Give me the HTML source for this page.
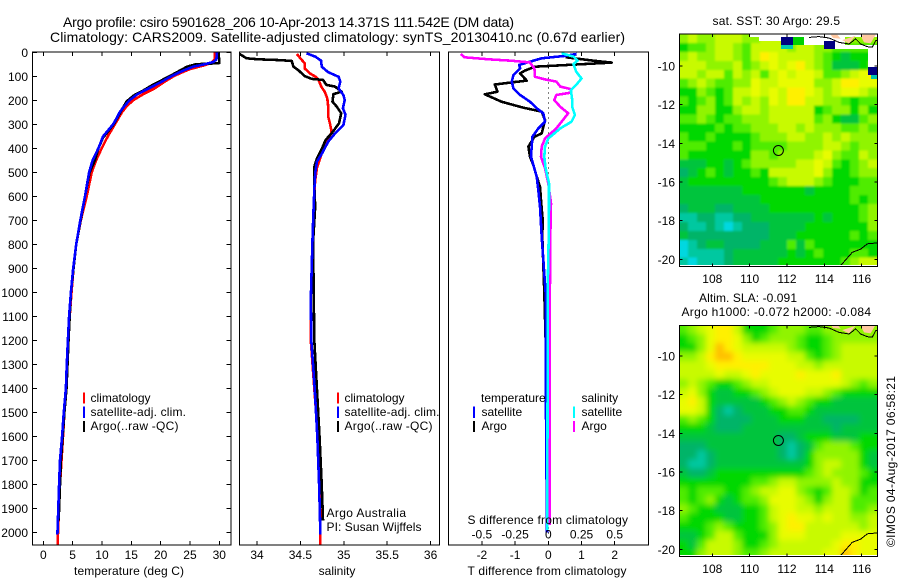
<!DOCTYPE html>
<html lang="en">
<head>
<meta charset="utf-8">
<title>Argo profile csiro 5901628_206</title>
<style>
html,body{margin:0;padding:0;background:#fff;}
svg{display:block;font-family:"Liberation Sans",sans-serif;font-size:12px;fill:#000;}
.frame{fill:none;stroke:#000;stroke-width:1;shape-rendering:crispEdges;}
.tick{stroke:#000;stroke-width:1;shape-rendering:crispEdges;}
.prof{fill:none;stroke-width:2.6;stroke-linejoin:round;shape-rendering:crispEdges;}
.zero{fill:none;stroke-width:1;stroke-dasharray:1 4;shape-rendering:crispEdges;}
.leg{stroke-width:2;shape-rendering:crispEdges;}
</style>
</head>
<body>
<svg id="chart" width="900" height="580" viewBox="0 0 900 580" xmlns="http://www.w3.org/2000/svg">
  <rect width="900" height="580" fill="#fff"/>
  <defs>
    <clipPath id="clip-sst"><rect x="679" y="34" width="198.5" height="232.7"/></clipPath>
    <clipPath id="clip-sla"><rect x="679" y="325" width="198.5" height="231.7"/></clipPath>
    <filter id="soft-sst" filterUnits="userSpaceOnUse" x="640" y="0" width="260" height="300"><feGaussianBlur stdDeviation="1.1"/></filter>
    <filter id="soft-sla" filterUnits="userSpaceOnUse" x="640" y="290" width="260" height="290"><feGaussianBlur stdDeviation="3"/></filter>
  </defs>

  <text x="63" y="27" font-size="14" textLength="451">Argo profile: csiro 5901628_206 10-Apr-2013 14.371S 111.542E (DM data)</text>
  <text x="50" y="42" font-size="14" textLength="575">Climatology: CARS2009. Satellite-adjusted climatology: synTS_20130410.nc (0.67d earlier)</text>

  <g id="temp-panel"></g>
  <g id="sal-panel"></g>
  <g id="diff-panel"></g>

  <g>
    <line class="leg" x1="84" x2="84" y1="392.5" y2="403.5" stroke="#f00"/>
    <line class="leg" x1="84" x2="84" y1="406.5" y2="418" stroke="#00f"/>
    <line class="leg" x1="84" x2="84" y1="421" y2="432" stroke="#000"/>
    <text x="90.5" y="402">climatology</text>
    <text x="90.5" y="416" textLength="95.5">satellite-adj. clim.</text>
    <text x="90.5" y="430" textLength="88">Argo(..raw -QC)</text>
  </g>
  <g>
    <line class="leg" x1="338" x2="338" y1="392.5" y2="403.5" stroke="#f00"/>
    <line class="leg" x1="338" x2="338" y1="406.5" y2="418" stroke="#00f"/>
    <line class="leg" x1="338" x2="338" y1="421" y2="432" stroke="#000"/>
    <text x="344.5" y="402">climatology</text>
    <text x="344.5" y="416" textLength="95">satellite-adj. clim.</text>
    <text x="344.5" y="430" textLength="88">Argo(..raw -QC)</text>
    <text x="326.5" y="517" textLength="79.5">Argo Australia</text>
    <text x="326.5" y="531" textLength="95">PI: Susan Wijffels</text>
  </g>
  <g>
    <text x="481" y="402">temperature</text>
    <text x="581.5" y="402">salinity</text>
    <line class="leg" x1="474" x2="474" y1="406.5" y2="418" stroke="#00f"/>
    <line class="leg" x1="474" x2="474" y1="421" y2="432" stroke="#000"/>
    <line class="leg" x1="574" x2="574" y1="406.5" y2="418" stroke="#0ff"/>
    <line class="leg" x1="574" x2="574" y1="421" y2="432" stroke="#f0f"/>
    <text x="481.5" y="416">satellite</text>
    <text x="481.5" y="430">Argo</text>
    <text x="581.5" y="416">satellite</text>
    <text x="581.5" y="430">Argo</text>
    <text x="467.5" y="524" textLength="160.5">S difference from climatology</text>
  </g>

  <text x="712.5" y="25" textLength="127.5">sat. SST: 30 Argo: 29.5</text>
  <g clip-path="url(#clip-sst)">
    <g id="sst-map" filter="url(#soft-sst)"></g>
  </g>
  <g shape-rendering="crispEdges">
    <rect x="749" y="34" width="129" height="3" fill="#fff"/>
    <rect x="759" y="37" width="22" height="4" fill="#fff"/>
    <rect x="781" y="37" width="12" height="8" fill="#000080"/>
    <rect x="781" y="45" width="12" height="4" fill="#00c8b0"/>
    <rect x="793" y="37" width="11" height="8" fill="#00d000"/>
    <rect x="804" y="37" width="41" height="8" fill="#fff"/>
    <rect x="824" y="41" width="11" height="8" fill="#000080"/>
    <rect x="835" y="45" width="43" height="4" fill="#fff"/>
    <rect x="868" y="49" width="10" height="18" fill="#fff"/>
    <rect x="868" y="67" width="10" height="8" fill="#000080"/>
    <rect x="871" y="75" width="7" height="4" fill="#00c8b0"/>
    <rect x="679" y="265" width="199" height="2" fill="#fff"/>
  </g>
  <g id="sst-coast" clip-path="url(#clip-sst)"></g>
  <g id="sst-frame"></g>

  <text x="699" y="302" textLength="98">Altim. SLA: -0.091</text>
  <text x="681.5" y="316" textLength="189.5">Argo h1000: -0.072 h2000: -0.084</text>
  <g clip-path="url(#clip-sla)">
    <g id="sla-map" filter="url(#soft-sla)"></g>
  </g>
  <rect x="679" y="555" width="199" height="2" fill="#fff" shape-rendering="crispEdges"/>
  <g id="sla-coast" clip-path="url(#clip-sla)"></g>
  <g id="sla-frame"></g>

  <text transform="translate(895,547) rotate(-90)" font-size="12" textLength="171">©IMOS 04-Aug-2017 06:58:21</text>
</svg>

<script>
// ---------- axis ticks ----------
const depthTicks = [0,100,200,300,400,500,600,700,800,900,1000,1100,1200,1300,1400,1500,1600,1700,1800,1900,2000];
const tempTicks = [0,5,10,15,20,25,30];
const salTicks = [34,34.5,35,35.5,36];
const salTickLabels = ['34','34.5','35','35.5','36'];
const tDiffTicks = [-2,-1,0,1,2];
const sDiffTicks = [-0.5,-0.25,0,0.25,0.5];
const sDiffTickLabels = ['-0.5','-0.25','0','0.25','0.5'];
const lonTicks = [108,110,112,114,116];
const latTicks = [-10,-12,-14,-16,-18,-20];

// ---------- temperature profile ----------
const tempClimDepth = [0,30,45,55,70,85,100,125,150,175,200,225,250,275,300,350,400,450,500,600,700,800,900,1000,1100,1200,1300,1400,1500,1600,1800,2000,2050];
const tempClimValue = [29.2,29.2,28.6,27.3,25,23.5,22.2,20.5,19,17,15.3,14.2,13.4,12.8,12.2,11,9.95,9,8.25,7.4,6.4,5.6,5.15,4.8,4.5,4.25,4.05,3.9,3.6,3.35,2.85,2.5,2.45];
const tempSatDepth = [0,30,40,50,60,80,100,125,150,175,200,225,250,275,300,350,400,450,500,600,700,800,900,1000,1100,1200,1300,1400,1500,1600,1700,1800,1900,2010];
const tempSatValue = [29.6,29.5,29,27.5,25.5,23.5,21.8,20,18,16,14.7,13.8,13,12.5,11.9,10.2,9.4,8.4,7.8,7.1,6.3,5.6,5.1,4.7,4.4,4.2,4.0,3.85,3.5,3.2,2.85,2.7,2.56,2.4];
const tempArgoDepth = [0,30,45,50,60,80,100,125,135,160,180,205,230,300,355,400,450,500,600,800,1000,1200,1400,1500,1600,1700,1800,1900,1950];
const tempArgoValue = [29.8,30,30,26,24.5,23,21.5,19.5,18.7,17,15.4,14.2,13.6,12,10.2,9.4,8.8,7.9,7.1,5.6,4.7,4.3,3.95,3.6,3.3,3.0,2.85,2.7,2.6];

// ---------- salinity profile ----------
const salClimDepth = [7,25,46,67,88,101,115,143,164,192,226,268,296,331,365,407,449,483,532,588,671,768,1030,1200,1400,1600,1800,2000,2050];
const salClimValue = [34.46,34.50,34.55,34.55,34.61,34.67,34.71,34.74,34.78,34.81,34.82,34.82,34.84,34.86,34.82,34.76,34.72,34.69,34.67,34.66,34.65,34.64,34.62,34.62,34.66,34.70,34.72,34.73,34.73];
const salSatDepth = [4,18,35,60,83,102,122,150,178,199,233,261,303,338,372,421,456,504,574,671,768,1030,1200,1400,1600,1800,2010];
const salSatValue = [34.57,34.67,34.74,34.745,34.82,34.94,34.96,34.94,34.995,35.01,34.99,35.02,34.995,34.90,34.82,34.75,34.69,34.67,34.66,34.65,34.64,34.62,34.625,34.665,34.695,34.715,34.73];
const salArgoDepth = [7,25,29,32,36,60,76,99,111,115,136,143,164,174,206,227,254,296,338,365,400,442,477,560,643,768,900,1200,1400,1600,1800,1950];
const salArgoValue = [33.80,33.88,34.015,34.23,34.40,34.42,34.48,34.55,34.63,34.76,34.80,34.90,34.975,34.88,34.87,34.92,34.97,34.945,34.86,34.79,34.75,34.69,34.66,34.66,34.67,34.65,34.65,34.66,34.69,34.72,34.745,34.76];

// ---------- difference profiles ----------
const diffBlackDepth = [7,21,35,43,60,76,88,118,134,164,175,206,231,247,282,338,352,393,435,470,518,560,615,699,768,1000,1300,1570,2000];
const diffBlackT = [0.85,0.55,1.36,1.91,-0.40,-0.70,-0.85,-0.65,-1.61,-1.53,-1.91,-1.41,-0.75,-0.20,-0.10,-0.20,-0.42,-0.60,-0.55,-0.45,-0.35,-0.25,-0.22,-0.17,-0.18,-0.12,-0.06,-0.05,-0.03];
const diffBlueDepth = [7,15,25,39,53,67,95,122,150,178,206,233,254,289,317,352,393,435,470,518,574,643,768,1000,1500,2000];
const diffBlueT = [0.85,0.50,-0.20,-0.55,-0.88,-0.85,-1.05,-1.10,-1.05,-0.85,-0.55,-0.35,-0.15,-0.10,-0.30,-0.48,-0.50,-0.52,-0.45,-0.35,-0.30,-0.25,-0.20,-0.08,-0.07,-0.04];
const diffCyanDepth = [4,18,35,49,81,109,136,157,199,227,261,289,317,359,393,435,483,546,643,768,1000,1400,1990];
const diffCyanS = [0.10,0.19,0.22,0.19,0.21,0.25,0.21,0.17,0.18,0.18,0.20,0.175,0.09,0,-0.025,-0.03,-0.02,0.005,0.005,0.003,-0.005,-0.005,-0.008];
const diffMagentaDepth = [7,21,29,35,42,67,102,113,122,143,154,168,178,199,227,254,289,317,359,393,435,483,546,629,768,1000,1970];
const diffMagentaS = [-0.66,-0.63,-0.45,-0.28,-0.14,-0.105,-0.10,-0.025,0.06,0.09,0.175,0.17,0.06,0.045,0.09,0.15,0.10,0.06,-0.025,-0.05,-0.055,-0.025,0,0.02,0.015,0.012,0.012];
const zeroLineDepth = [0,2050];

// ---------- map grids (colour level 0 cyan ... 10 orange) ----------
const sstGrid = [
[6,7,6,6,7,7,7,6,6,7,7,7,6,6,6,6,6,6,6,6,6,6],
[4,5,5,6,7,7,6,5,7,7,7,7,6,7,7,6,6,5,5,5,5,5],
[6,7,6,6,7,7,6,5,7,9,8,7,7,7,7,6,5,4,3,4,4,4],
[7,7,7,6,6,6,7,5,6,7,8,7,8,9,7,6,5,3,3,3,4,5],
[7,7,6,7,7,5,7,6,7,5,7,8,7,8,8,7,5,5,6,7,8,9],
[5,6,7,6,5,5,6,6,8,7,7,8,8,8,8,6,6,7,9,9,8,8],
[4,4,6,5,4,5,7,7,8,7,8,7,9,9,8,7,6,7,8,8,7,6],
[5,4,5,6,4,5,7,6,7,6,8,7,9,9,7,7,6,6,5,4,5,5],
[4,4,6,6,4,4,6,7,7,6,7,7,7,7,7,4,5,6,6,4,6,4],
[5,5,6,5,4,5,5,6,6,6,7,7,7,7,7,5,6,4,3,3,5,6],
[4,4,4,4,5,4,5,5,6,6,6,7,7,6,7,6,6,6,5,5,6,5],
[5,4,4,5,4,4,4,4,5,6,6,6,7,7,6,6,7,6,7,6,6,6],
[5,5,5,4,4,4,5,4,5,5,5,5,6,6,6,6,7,7,6,5,6,6],
[5,4,4,4,4,4,4,4,6,6,5,6,6,6,6,7,8,6,5,5,7,6],
[3,3,3,4,4,3,4,5,6,6,6,6,6,7,7,8,7,5,4,5,6,7],
[2,3,4,5,4,3,4,4,5,4,7,7,7,7,7,8,6,4,4,5,6,6],
[3,4,4,4,4,4,4,4,4,4,5,6,7,7,7,6,5,4,4,4,5,5],
[3,3,3,3,3,3,3,4,4,4,4,4,4,4,3,4,4,4,4,5,5,5],
[3,3,3,3,3,3,3,3,3,4,4,4,4,4,4,4,4,4,4,5,4,5],
[2,3,3,3,2,2,3,3,3,3,4,4,4,4,4,4,4,4,4,4,5,6],
[1,1,2,2,1,1,2,2,3,3,3,3,3,3,3,4,3,4,4,4,5,6],
[2,1,1,2,1,0,1,2,2,2,3,3,3,3,4,4,4,4,4,4,4,6],
[3,2,2,2,2,2,2,2,2,2,3,3,3,4,4,4,4,4,4,5,4,5],
[0,1,2,3,3,2,2,2,2,3,3,3,5,3,5,4,4,4,4,4,4,4],
[0,1,1,1,1,2,3,3,3,3,3,3,4,3,4,5,4,4,4,5,5,4],
[1,0,1,1,1,2,3,3,3,3,3,4,4,4,4,4,4,4,5,6,7,7]
];
const slaGrid = [
[5,6,7,8,9,9,7,4,4,4,5,6,6,6,5,5,6,6,6,6,6,6],
[4,5,6,8,9,9,8,6,4,5,6,6,6,5,4,4,5,6,6,6,6,6],
[4,4,6,8,10,9,8,7,7,7,7,7,6,5,4,4,5,6,7,7,7,7],
[6,6,7,9,10,10,9,8,8,8,8,8,7,7,5,4,5,6,7,7,7,7],
[7,7,7,8,9,9,9,9,9,9,8,8,8,7,7,6,7,7,7,7,7,7],
[7,7,7,7,8,7,7,8,9,8,8,8,8,9,8,8,8,9,7,7,7,7],
[6,7,6,5,4,4,5,6,7,7,8,8,8,8,8,8,8,8,7,6,5,6],
[7,8,6,4,3,3,4,4,5,6,7,8,8,8,7,7,6,5,4,4,4,4],
[8,9,7,4,3,3,3,3,3,4,5,6,7,6,5,4,4,3,3,3,3,3],
[8,8,7,4,2,1,2,3,3,3,4,4,5,5,4,3,3,3,3,3,3,3],
[5,6,5,4,2,2,2,2,3,3,3,4,4,4,3,3,2,2,2,2,3,3],
[4,4,4,3,2,2,2,3,3,3,3,3,3,3,3,3,3,2,3,3,3,3],
[3,3,3,3,3,3,3,3,3,3,3,2,2,3,4,4,4,3,3,3,4,4],
[2,2,2,3,3,3,3,3,3,3,3,2,1,2,3,5,6,6,6,5,4,4],
[2,2,1,2,3,3,3,3,3,3,3,2,1,2,4,6,6,6,6,6,4,3],
[2,1,1,2,3,3,3,3,3,3,3,3,3,3,4,6,7,7,6,6,4,3],
[3,2,2,3,4,4,4,4,4,4,4,4,4,4,5,6,7,6,6,6,5,4],
[4,4,4,4,4,4,4,4,5,5,6,7,7,6,6,6,6,7,6,6,4,4],
[5,4,5,5,5,4,4,5,6,7,7,8,8,6,5,4,5,7,7,6,4,5],
[5,4,5,6,4,3,4,5,5,6,8,8,8,7,6,4,6,7,7,5,5,5],
[6,5,4,4,3,3,3,4,4,5,7,8,8,7,7,6,7,7,7,5,5,6],
[5,4,4,4,4,3,3,4,4,5,7,8,9,8,8,7,8,7,7,6,6,7],
[4,4,4,5,6,5,4,4,4,5,6,8,9,9,7,7,7,7,7,7,6,7],
[3,3,4,5,7,7,5,4,4,4,6,8,8,8,7,7,7,7,8,8,8,8],
[4,3,5,7,7,7,6,4,4,5,6,7,7,7,7,7,7,8,9,9,8,8],
[4,4,6,7,7,7,6,5,5,6,7,7,7,7,7,7,8,8,10,9,8,8]
];
const colourLevels = ['#00d8e0','#00c8a0','#00b468','#00c43c','#00d800','#50ec00','#90f400','#c8fa00','#e8fc00','#fff000','#ffc000'];

// ---------- geography ----------
const floatLon = [111.542];
const floatLat = [-14.371];
const coastSouthLon = [114.9,115.5,115.95,116.3,116.87];
const coastSouthLat = [-20.3,-19.64,-19.47,-19.2,-19.15];
const coastNorthLon = [113.18,113.71,114.25,114.79,115.32,115.68,115.95,116.3,116.57,116.75,116.87];
const coastNorthLat = [-8.52,-8.48,-8.55,-8.78,-8.86,-8.6,-8.86,-9.0,-9.03,-8.69,-8.69];
const landALon = [114.34,114.7,114.88,114.46];
const landALat = [-8.38,-8.38,-8.59,-8.55];
const landBLon = [116.04,116.75,116.48,116.13,116.0];
const landBLat = [-8.38,-8.38,-8.83,-8.78,-8.55];
const landCLon = [114.96,115.68,115.32];
const landCLat = [-8.66,-8.43,-8.83];

// ---------- scales ----------
const NS = 'http://www.w3.org/2000/svg';
const yDepth = d => 52.3 + 0.24 * d;
const xTemp = t => 43.3 + 5.867 * t;
const xSal = s => 257 + 86.8 * (s - 34);
const xTDiff = t => 548.3 + 33.2 * t;
const xSDiff = s => 548.3 + 132.8 * s;
const xLon = lon => 712.3 + 18.67 * (lon - 108);
const ySst = lat => 66 + 19.33 * (-10 - lat);
const ySla = lat => 356 + 19.33 * (-10 - lat);

function make(parent, tag) {
  const el = document.createElementNS(NS, tag);
  parent.appendChild(el);
  return el;
}
function addText(parent, name, str, x, y, anchor, size) {
  const el = make(parent, 'text');
  
  
  el.setAttribute('x', x);
  el.setAttribute('y', y);
  if (anchor) el.setAttribute('text-anchor', anchor);
  if (size) el.setAttribute('font-size', size);
  el.textContent = str;
  return el;
}
function addTick(parent, x1, y1, x2, y2) {
  const el = make(parent, 'line');
  
  
  el.setAttribute('class', 'tick');
  el.setAttribute('x1', x1);
  el.setAttribute('y1', y1);
  el.setAttribute('x2', x2);
  el.setAttribute('y2', y2);
}
function addFrame(parent, name, x, y, w, h) {
  const el = make(parent, 'rect');
  
  
  el.setAttribute('class', 'frame');
  el.setAttribute('x', x);
  el.setAttribute('y', y);
  el.setAttribute('width', w);
  el.setAttribute('height', h);
}
function addProfile(parent, name, colour, values, depths, xFn) {
  const el = make(parent, 'polyline');
  
  
  el.setAttribute('class', 'prof');
  el.setAttribute('stroke', colour);
  el.setAttribute('points', values.map((v, i) => xFn(v).toFixed(1) + ',' + yDepth(depths[i]).toFixed(1)).join(' '));
  return el;
}
const PTOP = 52, PBOT = 545;
function xTicks(parent, ticks, fn) {
  ticks.forEach(t => {
    addTick(parent, fn(t), PTOP, fn(t), PTOP + 4);
    addTick(parent, fn(t), PBOT, fn(t), PBOT - 4);
  });
}

// temperature panel
const tp = document.getElementById('temp-panel');
addProfile(tp, 'temperature-climatology-line', '#f00', tempClimValue, tempClimDepth, xTemp);
addProfile(tp, 'temperature-argo-line', '#000', tempArgoValue, tempArgoDepth, xTemp);
addProfile(tp, 'temperature-satellite-line', '#00f', tempSatValue, tempSatDepth, xTemp);
addFrame(tp, 'temperature-plot-frame', 32.5, PTOP, 198.5, PBOT - PTOP);
xTicks(tp, tempTicks, xTemp);
tempTicks.forEach(t => addText(tp, 'temperature-tick-label', String(t), xTemp(t), 559, 'middle'));
depthTicks.forEach(d => {
  addTick(tp, 32.5, yDepth(d), 37, yDepth(d));
  addTick(tp, 231, yDepth(d), 226.5, yDepth(d));
  addText(tp, 'depth-tick-label', String(d), 28, yDepth(d) + 4.5, 'end');
});
const tempTitle = addText(tp, 'temperature-axis-title', 'temperature (deg C)', 74, 575);
tempTitle.setAttribute('textLength', '110');

// salinity panel
const sp = document.getElementById('sal-panel');
addProfile(sp, 'salinity-climatology-line', '#f00', salClimValue, salClimDepth, xSal);
addProfile(sp, 'salinity-argo-line', '#000', salArgoValue, salArgoDepth, xSal);
addProfile(sp, 'salinity-satellite-line', '#00f', salSatValue, salSatDepth, xSal);
addFrame(sp, 'salinity-plot-frame', 239.5, PTOP, 200, PBOT - PTOP);
xTicks(sp, salTicks, xSal);
salTicks.forEach((t, i) => addText(sp, 'salinity-tick-label', salTickLabels[i], xSal(t), 559, 'middle'));
addText(sp, 'salinity-axis-title', 'salinity', 337, 575, 'middle');

// difference panel
const dp = document.getElementById('diff-panel');
const zero = addProfile(dp, 'zero-reference-line', '#000', [0, 0], zeroLineDepth, xTDiff);
zero.setAttribute('class', 'zero');
addProfile(dp, 'argo-temperature-difference-line', '#000', diffBlackT, diffBlackDepth, xTDiff);
addProfile(dp, 'satellite-temperature-difference-line', '#00f', diffBlueT, diffBlueDepth, xTDiff);
addProfile(dp, 'argo-salinity-difference-line', '#f0f', diffMagentaS, diffMagentaDepth, xSDiff);
addProfile(dp, 'satellite-salinity-difference-line', '#0ff', diffCyanS, diffCyanDepth, xSDiff);
addFrame(dp, 'difference-plot-frame', 448.5, PTOP, 200, PBOT - PTOP);
xTicks(dp, tDiffTicks, xTDiff);
tDiffTicks.forEach(t => addText(dp, 'temperature-difference-tick-label', String(t), xTDiff(t), 559, 'middle'));
sDiffTicks.forEach((t, i) => addText(dp, 'salinity-difference-tick-label', sDiffTickLabels[i], xSDiff(t), 538.5, 'middle'));
const diffTitle = addText(dp, 'temperature-difference-axis-title', 'T difference from climatology', 467.5, 575);
diffTitle.setAttribute('textLength', '159');

// maps
const GRID_LON0 = 106.22, GRID_DLON = 0.482, GRID_DLAT = 0.463;
function drawGrid(id, grid, yFn, latTop) {
  const g = document.getElementById(id);
  const lastRow = grid.length - 1;
  grid.forEach((row, r) => {
    row.forEach((level, c) => {
      // edge cells run past the frame so the softening filter does not fade at the clip
      const x0 = xLon(GRID_LON0 + c * GRID_DLON) - (c === 0 ? 12 : 0);
      const x1 = xLon(GRID_LON0 + (c + 1) * GRID_DLON) + (c === row.length - 1 ? 12 : 0);
      const y0 = yFn(latTop - r * GRID_DLAT) - (r === 0 ? 12 : 0);
      const y1 = yFn(latTop - (r + 1) * GRID_DLAT) + (r === lastRow ? 12 : 0);
      const el = make(g, 'rect');
      
      
      el.setAttribute('x', x0.toFixed(2));
      el.setAttribute('y', y0.toFixed(2));
      el.setAttribute('width', (x1 - x0 + 0.4).toFixed(2));
      el.setAttribute('height', (y1 - y0 + 0.4).toFixed(2));
      el.setAttribute('fill', colourLevels[level]);
      el.setAttribute('shape-rendering', 'crispEdges');
    });
  });
}
drawGrid('sst-map', sstGrid, ySst, -8.344);
drawGrid('sla-map', slaGrid, ySla, -8.41);

function drawCoast(id, yFn) {
  const g = document.getElementById(id);
  [[landALon, landALat], [landBLon, landBLat], [landCLon, landCLat]].forEach(pair => {
    const el = make(g, 'polygon');
    
    
    el.setAttribute('fill', '#ffc8a0');
    el.setAttribute('points', pair[0].map((lon, i) => xLon(lon).toFixed(1) + ',' + yFn(pair[1][i]).toFixed(1)).join(' '));
  });
  [[coastNorthLon, coastNorthLat], [coastSouthLon, coastSouthLat]].forEach(pair => {
    const el = make(g, 'polyline');
    
    
    el.setAttribute('fill', 'none');
    el.setAttribute('stroke', '#000');
    el.setAttribute('stroke-width', '1');
    el.setAttribute('shape-rendering', 'crispEdges');
    el.setAttribute('points', pair[0].map((lon, i) => xLon(lon).toFixed(1) + ',' + yFn(pair[1][i]).toFixed(1)).join(' '));
  });
}
drawCoast('sst-coast', ySst);
drawCoast('sla-coast', ySla);

function drawMapAxes(id, yFn, top, bottom, labelY) {
  const g = document.getElementById(id);
  addFrame(g, 'map-frame', 679.5, top, 198, bottom - top);
  lonTicks.forEach(lon => {
    addTick(g, xLon(lon), top, xLon(lon), top + 3);
    addTick(g, xLon(lon), bottom, xLon(lon), bottom - 3);
    addText(g, 'longitude-tick-label', String(lon), xLon(lon), labelY, 'middle');
  });
  latTicks.forEach(lat => {
    addTick(g, 679.5, yFn(lat), 682.5, yFn(lat));
    addTick(g, 877.5, yFn(lat), 874.5, yFn(lat));
    addText(g, 'latitude-tick-label', String(lat), 675, yFn(lat) + 4.5, 'end');
  });
  const mark = make(g, 'circle');
  
  
  mark.setAttribute('cx', xLon(floatLon[0]).toFixed(1));
  mark.setAttribute('cy', yFn(floatLat[0]).toFixed(1));
  mark.setAttribute('r', '5');
  mark.setAttribute('fill', 'none');
  mark.setAttribute('stroke', '#000');
  mark.setAttribute('stroke-width', '1');
}
drawMapAxes('sst-frame', ySst, 34, 266.7, 283);
drawMapAxes('sla-frame', ySla, 325.3, 556.7, 573);
</script>
</body>
</html>
